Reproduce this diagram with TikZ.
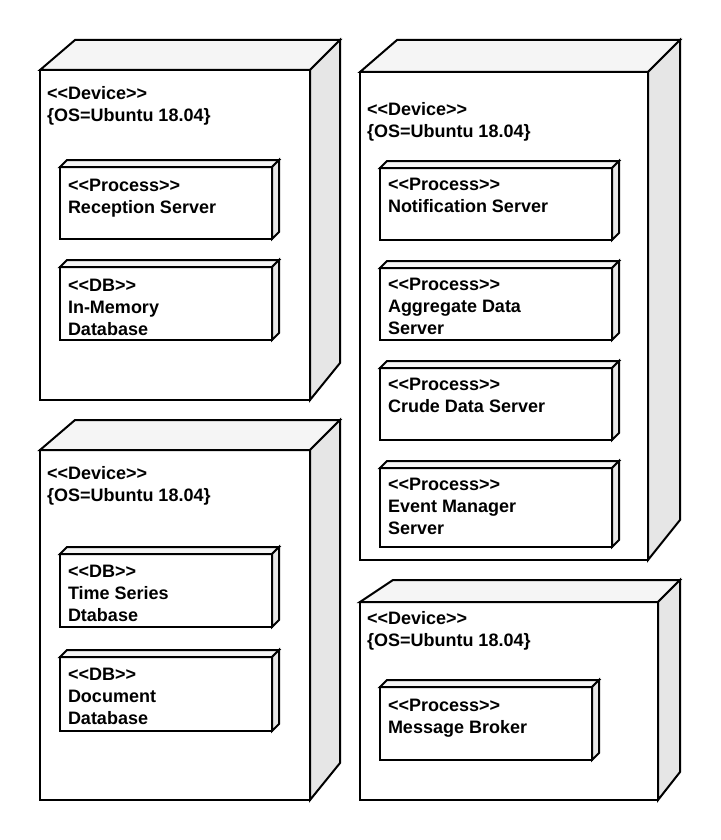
\documentclass[tikz,border=0pt]{standalone}
\usepackage{fontspec}
\setmainfont{Liberation Sans}[Ligatures=TeXOff]
\usetikzlibrary{calc}
\definecolor{topgray}{HTML}{F5F5F5}
\definecolor{sidegray}{HTML}{E6E6E6}
\tikzset{
  face/.style={draw=black, line width=2pt, line join=miter},
  frontface/.style={face, fill=white, inner sep=0pt, outer sep=0pt, anchor=north west},
  topface/.style={face, fill=topgray},
  sideface/.style={face, fill=sidegray},
  lbl/.style={anchor=base west, inner sep=0pt, outer sep=0pt, align=left,
    font=\bfseries\fontsize{18}{21.8}\selectfont}
}
% name, x0, yfront, x1, y1, depth, left dx, bottom dy
\newcommand\cubenode[8]{%
  \node[frontface, minimum width={#4pt-#2pt}, minimum height={#5pt-#3pt}] (#1) at (#2pt,-#3pt) {};
  \draw[topface] (#1.north west) -- ++(#7pt,#6pt) -- ($(#1.north east)+(#6pt,#6pt)$) -- (#1.north east) -- cycle;
  \draw[sideface] (#1.north east) -- ++(#6pt,#6pt) -- ($(#1.south east)+(#6pt,#8pt)$) -- (#1.south east) -- cycle;
}
\begin{document}
\begin{tikzpicture}
\useasboundingbox (0,0) rectangle (720pt,-840pt);
% devices
\cubenode{tl}{40}{70}{310}{400}{30}{35}{37}
\cubenode{rt}{360}{72}{648}{560}{32}{37}{40}
\cubenode{bl}{40}{450}{310}{800}{30}{35}{37}
\cubenode{br}{360}{602}{658}{800}{22}{33}{28}
% device labels (anchor = baseline of last line)
\node[lbl] (tlhead) at (47pt,-121.3pt) {<<Device>>\\\{OS=Ubuntu 18.04\}};
\node[lbl] (rthead) at (367pt,-137.3pt) {<<Device>>\\\{OS=Ubuntu 18.04\}};
\node[lbl] (blhead) at (47pt,-501.3pt) {<<Device>>\\\{OS=Ubuntu 18.04\}};
\node[lbl] (brhead) at (367pt,-646.3pt) {<<Device>>\\\{OS=Ubuntu 18.04\}};
% inner boxes
\cubenode{tlrec}{60}{167}{272}{239}{7}{7}{7}
\cubenode{tlmem}{60}{267}{272}{340}{7}{7}{7}
\cubenode{blts}{60}{554}{272}{627}{7}{7}{7}
\cubenode{bldoc}{60}{657}{272}{731}{7}{7}{7}
\cubenode{rtnot}{380}{168}{612}{240}{7}{7}{7}
\cubenode{rtagg}{380}{268}{612}{340}{7}{7}{7}
\cubenode{rtcru}{380}{368}{612}{440}{7}{7}{7}
\cubenode{rtevt}{380}{468}{612}{547}{7}{7}{7}
\cubenode{brmsg}{380}{687}{592}{760}{7}{7}{7}
% inner labels
\node[lbl] (tlrect) at (68pt,-213.3pt) {<<Process>>\\Reception Server};
\node[lbl] (tlmemt) at (68pt,-335.1pt) {<<DB>>\\In-Memory\\Database};
\node[lbl] (bltst) at (68pt,-621.1pt) {<<DB>>\\Time Series\\Dtabase};
\node[lbl] (bldoct) at (68pt,-724.1pt) {<<DB>>\\Document\\Database};
\node[lbl] (rtnott) at (388pt,-212.3pt) {<<Process>>\\Notification Server};
\node[lbl] (rtaggt) at (388pt,-334.1pt) {<<Process>>\\Aggregate Data\\Server};
\node[lbl] (rtcrut) at (388pt,-412.3pt) {<<Process>>\\Crude Data Server};
\node[lbl] (rtevtt) at (388pt,-534.1pt) {<<Process>>\\Event Manager\\Server};
\node[lbl] (brmsgt) at (388pt,-733.3pt) {<<Process>>\\Message Broker};
\end{tikzpicture}
\end{document}
